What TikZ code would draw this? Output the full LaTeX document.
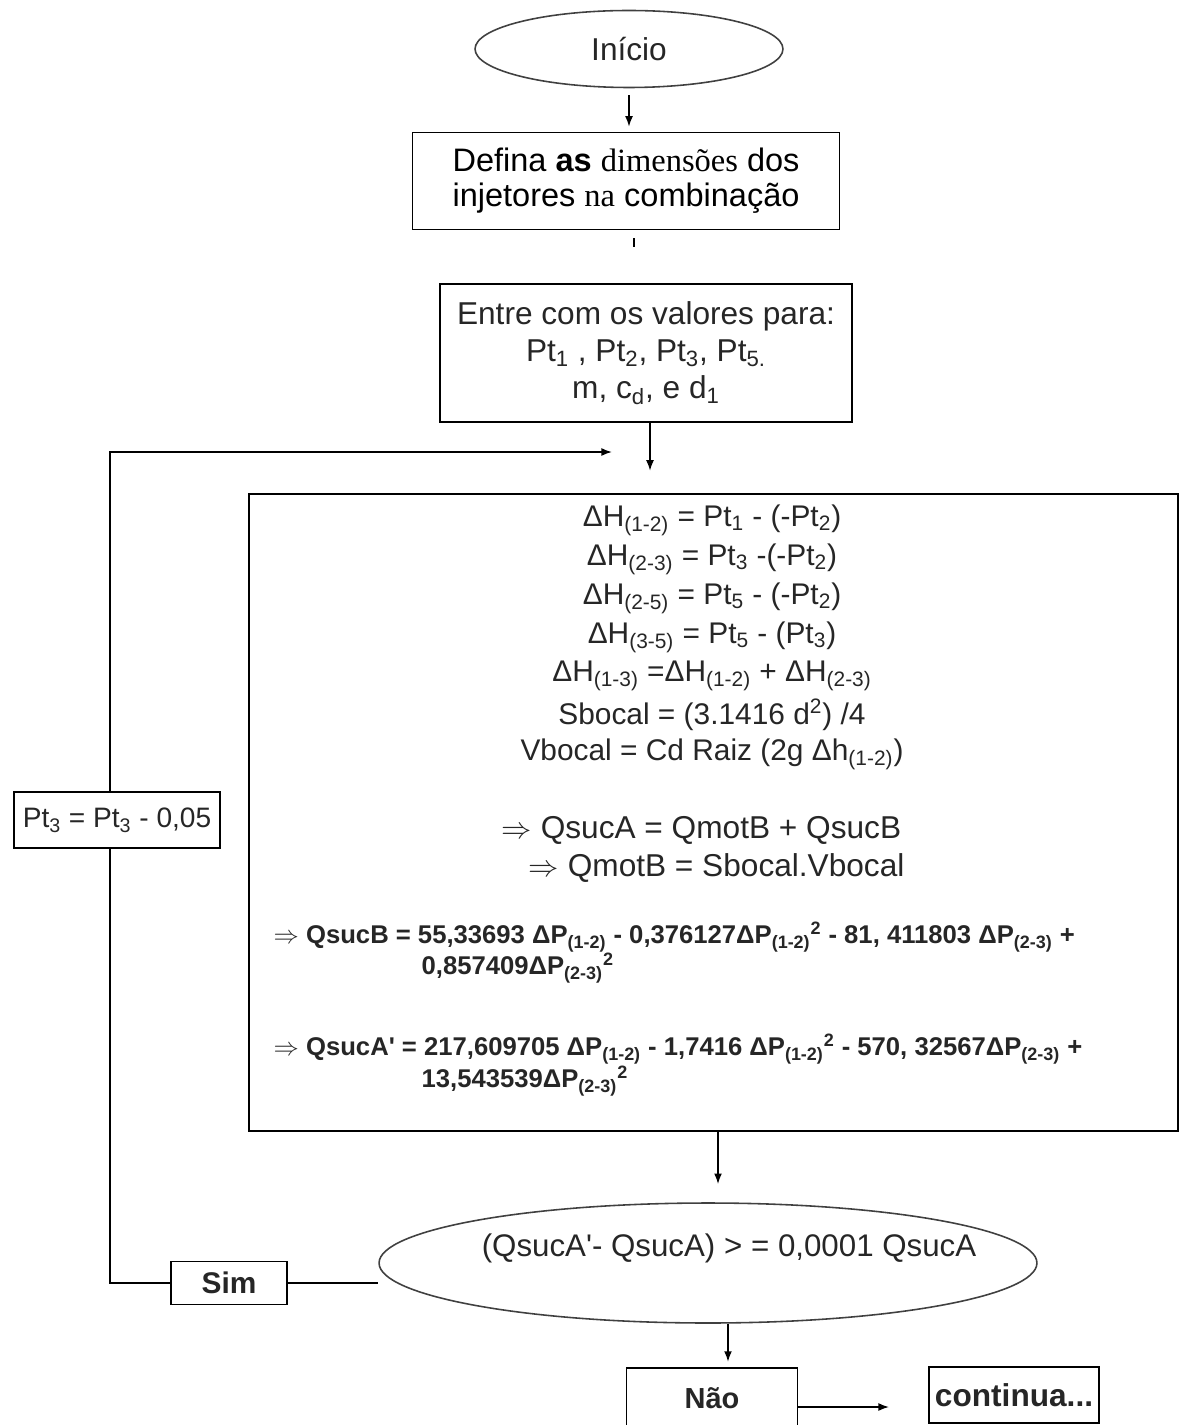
\documentclass[tikz,border=0pt]{standalone}
\usepackage{fontspec}
\setmainfont{Liberation Sans}
\newfontfamily\tnr{Liberation Serif}
\usetikzlibrary{shapes.geometric,arrows.meta}
\newcommand\dn[1]{\textsubscript{#1}}
\newcommand\fsz[1]{\fontsize{#1}{1.2\dimexpr#1pt\relax}\selectfont}

\begin{document}
\begin{tikzpicture}[x=0.02cm,y=-0.02cm,line width=0.9pt,
    >={Latex[length=6pt,width=4.5pt]},
    every node/.style={text=black!85},
    box/.style={draw,rectangle,inner sep=0pt,align=center},
    ovalbox/.style={draw=black!75,ellipse,inner sep=0pt},
    eqn/.style={font=\fsz{17}},
    bigeq/.style={font=\fsz{18},anchor=west},
    boldeq/.style={font=\fsz{14.6}\bfseries,anchor=west,inner sep=0.5pt}]
  \useasboundingbox (0,0) rectangle (1180,1425);

  % Nodes
  \node[ovalbox,minimum width=6.16cm,minimum height=1.54cm,font=\fsz{18}] (inicio) at (629,49) {Início};
  \node[box,text=black,minimum width=8.54cm,minimum height=1.94cm,font=\fontsize{18.5}{20}\selectfont] (defina) at (626,181)
    {Defina \textbf{as} {\tnr dimensões} dos\\injetores {\tnr na} combinação};
  \node[box,minimum width=8.24cm,minimum height=2.76cm,font=\fontsize{18}{21}\selectfont] (entre) at (646,353)
    {Entre com os valores para:\\Pt\dn{1} , Pt\dn{2}, Pt\dn{3}, Pt\dn{5.}\\m, c\dn{d}, e d\dn{1}};
  \node[box,line width=1.3pt,minimum width=18.58cm,minimum height=12.74cm] (calc) at (713.5,812.5) {};
  \node[box,minimum width=4.12cm,minimum height=1.12cm,font=\fsz{16}] (pt3) at (117,820) {Pt\dn{3} = Pt\dn{3} - 0,05};

  % equations inside the big box
  \foreach \eq [count=\i] in {
      {ΔH\dn{(1-2)} = Pt\dn{1} - (-Pt\dn{2})},
      {ΔH\dn{(2-3)} = Pt\dn{3} -(-Pt\dn{2})},
      {ΔH\dn{(2-5)} = Pt\dn{5} - (-Pt\dn{2})},
      {ΔH\dn{(3-5)} = Pt\dn{5} - (Pt\dn{3})},
      {ΔH\dn{(1-3)} =ΔH\dn{(1-2)} + ΔH\dn{(2-3)}},
      {Sbocal = (3.1416 d\textsuperscript{2}) /4},
      {Vbocal = Cd Raiz (2g Δh\dn{(1-2)})}}
    \node[eqn] (eq\i) at (712,481+39*\i) {\eq};
  \node[bigeq] (qa) at (495,830) {$\Rightarrow$ QsucA = QmotB + QsucB};
  \node[bigeq] (qm) at (522,868) {$\Rightarrow$ QmotB = Sbocal.Vbocal};
  \node[boldeq] (qb1) at (272,937)
    {$\Rightarrow$ QsucB = 55,33693 ΔP\dn{(1-2)} - 0,376127ΔP\dn{(1-2)}\textsuperscript{2} - 81, 411803 ΔP\dn{(2-3)} +};
  \node[boldeq] (qb2) at (420,968) {0,857409ΔP\dn{(2-3)}\textsuperscript{2}};
  \node[boldeq] (qc1) at (272,1049)
    {$\Rightarrow$ QsucA\textquotesingle{} = 217,609705 ΔP\dn{(1-2)} - 1,7416 ΔP\dn{(1-2)}\textsuperscript{2} - 570, 32567ΔP\dn{(2-3)} +};
  \node[boldeq] (qc2) at (420,1081) {13,543539ΔP\dn{(2-3)}\textsuperscript{2}};

  % decision and exits
  \node[ovalbox,minimum width=13.16cm,minimum height=2.4cm] (teste) at (708,1263) {};
  \node[font=\fsz{17.8}] (testetxt) at (729,1248) {(QsucA\textquotesingle- QsucA) > = 0,0001 QsucA};
  \node[box,minimum width=2.32cm,minimum height=0.86cm,font=\fsz{17}\bfseries] (sim) at (229,1283) {Sim};
  \node[box,minimum width=3.42cm,minimum height=1.2cm,font=\fsz{16.5}\bfseries] (nao) at (712,1398) {Não};
  \node[box,minimum width=3.4cm,minimum height=1.12cm,font=\fsz{18}\bfseries] (cont) at (1014,1395) {continua...};
  \coordinate (loopend) at (612,452);
  \coordinate (fwd) at (889,1407);

  % Arrows: forward
  \draw[->,shorten <=0.14cm,shorten >=0.1cm] (inicio.south) -- (inicio.south |- defina.north);
  \draw ([xshift=0.16cm]defina.south) ++(0,8) -- ++(0,9);
  \draw[->] ([xshift=0.08cm]entre.south) -- ++(0,48);
  \draw[->] ([xshift=0.09cm]calc.south) -- ++(0,52);
  \draw[->] ([xshift=0.4cm]teste.south) -- ++(0,38);
  \draw[->] (nao.east |- fwd) -- (fwd);

  % Loop back through Sim
  \draw (sim.east) -- (sim.east -| teste.west);
  \draw (sim.west) -| ([xshift=-0.14cm]pt3.south);
  \draw[->] ([xshift=-0.14cm]pt3.north) |- (loopend);
\end{tikzpicture}
\end{document}
